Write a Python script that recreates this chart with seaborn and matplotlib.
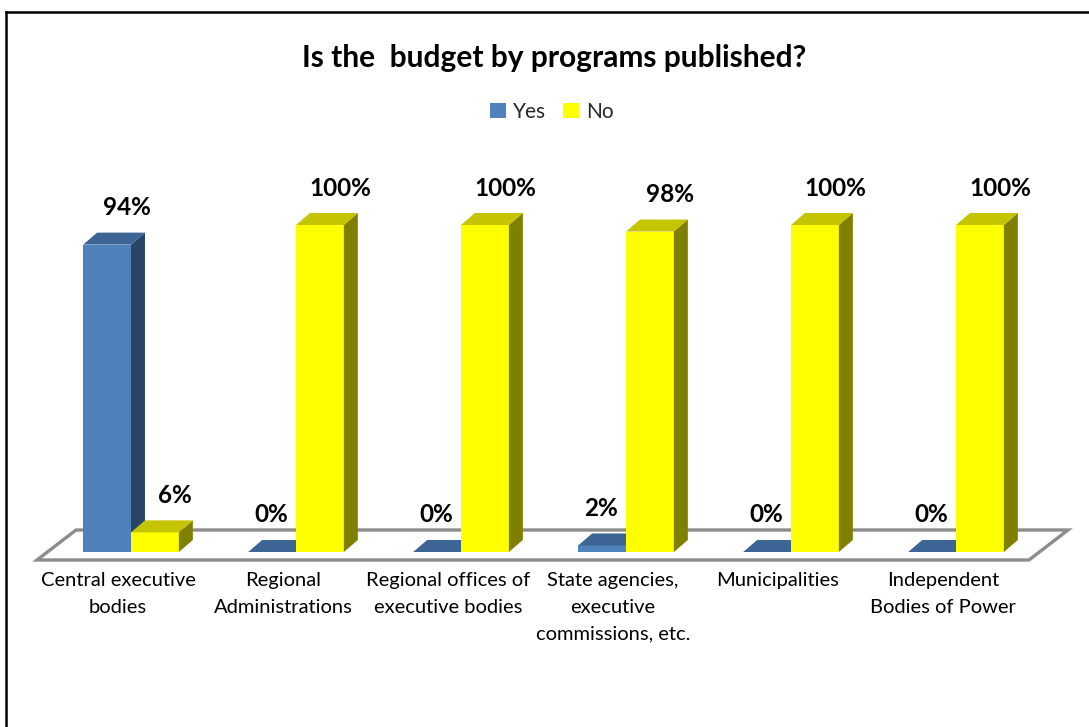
import matplotlib
matplotlib.use("Agg")
import numpy as np
import pandas as pd
import matplotlib.pyplot as plt
import seaborn as sns
from matplotlib.patches import Polygon, Patch
from matplotlib.transforms import IdentityTransform, ScaledTranslation
from matplotlib.lines import Line2D

# ---------------- data ----------------
categories = [
    "Central executive\nbodies",
    "Regional\nAdministrations",
    "Regional offices of\nexecutive bodies",
    "State agencies,\nexecutive\ncommissions, etc.",
    "Municipalities",
    "Independent\nBodies of Power",
]
yes_values = [94, 0, 0, 2, 0, 0]
no_values = [6, 100, 100, 98, 100, 100]
series = ["Yes", "No"]
title = "Is the  budget by programs published?"

FRONT = {"Yes": "#4F81BD", "No": "#FFFF00"}
TOP = {"Yes": "#3C6494", "No": "#C4C400"}
SIDE = {"Yes": "#284466", "No": "#808000"}

df = pd.DataFrame({
    "category": categories * 2,
    "series": ["Yes"] * len(categories) + ["No"] * len(categories),
    "value": yes_values + no_values,
})
values_by_series = {"Yes": yes_values, "No": no_values}

sns.set_style("white")
plt.rcParams["font.family"] = ["Lato", "DejaVu Sans"]

W, H = 1089, 727
fig = plt.figure(figsize=(W / 100, H / 100), dpi=100)
fig.patch.set_facecolor("white")

AX_L, AX_R, AX_B, AX_T = 37, 1068, 560, 150   # pixel positions (from top for y)
ax = fig.add_axes([AX_L / W, (H - AX_B) / H, (AX_R - AX_L) / W, (AX_B - AX_T) / H])

sns.barplot(data=df, x="category", y="value", hue="series", order=categories,
            hue_order=series, palette=FRONT, width=0.58, linewidth=0,
            saturation=1, errorbar=None, legend=False, ax=ax)

ax.set_xlim((AX_L - 131) / 165, (AX_R - 131) / 165)
ax.set_ylim(-8 / 3.27, (552 - AX_T) / 3.27)
ax.set_xlabel("")
ax.set_ylabel("")
ax.set_xticks([])
ax.set_yticks([])
for sp in ax.spines.values():
    sp.set_visible(False)
ax.set_facecolor("none")

# ---------------- floor ----------------
FDX, FDY = 39, 30
bb = ax.bbox
fx0, fx1, fy = bb.x0, bb.x1 - FDX, bb.y0
floor = [(fx0, fy), (fx1, fy), (fx1 + FDX, fy + FDY), (fx0 + FDX, fy + FDY)]
ax.add_patch(Polygon(floor, closed=True, transform=IdentityTransform(),
                     facecolor="white", edgecolor="#8C8C8C", lw=2.4,
                     joinstyle="miter", zorder=1, clip_on=False))

# ---------------- 3D faces ----------------
DX, DY = 14, 12
to_disp = ax.transData.transform
for k, (name, cont) in enumerate(zip(series, ax.containers)):
    for bar, v in zip(cont, values_by_series[name]):
        x0, w, h = bar.get_x(), bar.get_width(), bar.get_height()
        X0, Y0 = to_disp((x0, 0))
        X1, Y1 = to_disp((x0 + w, h))
        z = 2 + k
        bar.set_zorder(z)
        top = [(X0, Y1), (X1, Y1), (X1 + DX, Y1 + DY), (X0 + DX, Y1 + DY)]
        side = [(X1, Y0), (X1 + DX, Y0 + DY), (X1 + DX, Y1 + DY), (X1, Y1)]
        ax.add_patch(Polygon(side, closed=True, transform=IdentityTransform(),
                             facecolor=SIDE[name], lw=0, zorder=z, clip_on=False))
        ax.add_patch(Polygon(top, closed=True, transform=IdentityTransform(),
                             facecolor=TOP[name], lw=0, zorder=z, clip_on=False))
        dx = 20 if v >= 5 else -1
        ax.annotate(f"{v}%", xy=(x0 + w / 2, h), xytext=(dx, 37),
                    textcoords="offset pixels", ha="center", va="center",
                    fontsize=17.5, fontweight="bold", color="black",
                    zorder=10, annotation_clip=False)

# ---------------- category labels ----------------
lab_tr = ax.get_xaxis_transform() + ScaledTranslation(-0.13, -0.12, fig.dpi_scale_trans)
for i, cat in enumerate(categories):
    ax.text(i, 0, cat, transform=lab_tr, ha="center", va="top",
            multialignment="center", fontsize=14.5, linespacing=1.68, color="black")

# ---------------- title & legend ----------------
fig.text(554 / W, (H - 58) / H, title, ha="center", va="center",
         fontsize=21.5, fontweight="bold", color="black")
handles = [Patch(facecolor=FRONT[s], edgecolor="none") for s in series]
fig.legend(handles, series, loc="center", bbox_to_anchor=(552 / W, (H - 112) / H),
           ncol=2, frameon=False, fontsize=15, handlelength=0.75,
           handleheight=0.75, handletextpad=0.35, columnspacing=0.8,
           borderpad=0.2)

# ---------------- outer border (cropped) ----------------
fig.add_artist(Line2D([6 / W, 1.01], [(H - 12) / H] * 2, color="black", lw=1.8,
                      transform=fig.transFigure, solid_capstyle="projecting"))
fig.add_artist(Line2D([6 / W, 6 / W], [-0.01, (H - 12) / H], color="black", lw=1.8,
                      transform=fig.transFigure, solid_capstyle="projecting"))

fig.savefig("out.png", dpi=100)
